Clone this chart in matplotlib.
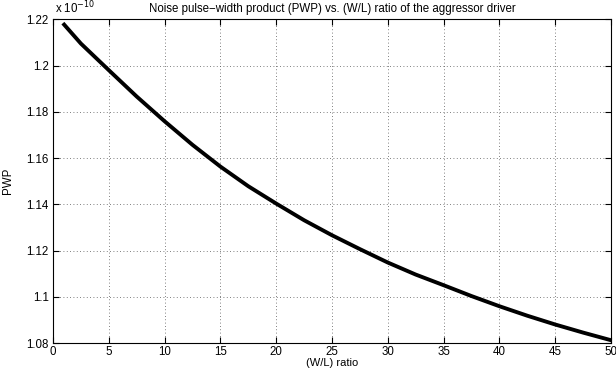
import numpy as np
import matplotlib
matplotlib.use('Agg')
import matplotlib.pyplot as plt
from matplotlib.ticker import FuncFormatter

plt.rcParams['font.family'] = ['Liberation Sans', 'DejaVu Sans']

# values (PWP in units of 1e-10)
wl_ratio = [1, 2.5, 5, 7.5, 10, 12.5, 15, 17.5, 20, 22.5, 25,
            27.5, 30, 32.5, 35, 37.5, 40, 42.5, 45, 47.5, 50]
pwp = np.array([1.2177, 1.2095, 1.1980, 1.1866, 1.1759, 1.1657, 1.1563,
                1.1478, 1.1403, 1.1331, 1.1266, 1.1206, 1.1148, 1.1096,
                1.1050, 1.1003, 1.0959, 1.0918, 1.0880, 1.0845, 1.0812]) * 1e-10

xticks = np.arange(0, 51, 5)
yticks = np.array([1.08, 1.10, 1.12, 1.14, 1.16, 1.18, 1.20, 1.22]) * 1e-10

fs = 8.3

fig = plt.figure(figsize=(6.16, 3.68), dpi=100)
ax = fig.add_axes([53/616, 1 - 343/368, (611-53)/616, (343-19.3)/368])

ax.plot(wl_ratio, pwp, color='black', linewidth=2.8, solid_joinstyle='round')

ax.set_xlim(0, 50)
ax.set_ylim(yticks[0], yticks[-1])
ax.set_xticks(xticks)
ax.set_yticks(yticks)
ax.yaxis.set_major_formatter(FuncFormatter(lambda v, p: '%g' % round(v / 1e-10, 4)))
ax.tick_params(direction='in', top=True, right=True, labelsize=fs, length=4.5)
ax.tick_params(axis='x', pad=2)
ax.tick_params(axis='y', pad=3)
ax.grid(True, linestyle=(0, (1, 3)), color='#555555', linewidth=0.6)
for s in ax.spines.values():
    s.set_linewidth(0.8)

ax.set_xlabel('(W/L) ratio', fontsize=8, labelpad=0)
ax.set_ylabel('PWP', fontsize=fs, labelpad=9)
ax.set_title('Noise pulse\u2212width product (PWP) vs. (W/L) ratio of the aggressor driver',
             fontsize=fs, pad=5)
ax.text(0.004, 1.008, 'x 10$^{-10}$', transform=ax.transAxes, fontsize=fs,
        ha='left', va='bottom')

fig.savefig('out.png', dpi=100)
